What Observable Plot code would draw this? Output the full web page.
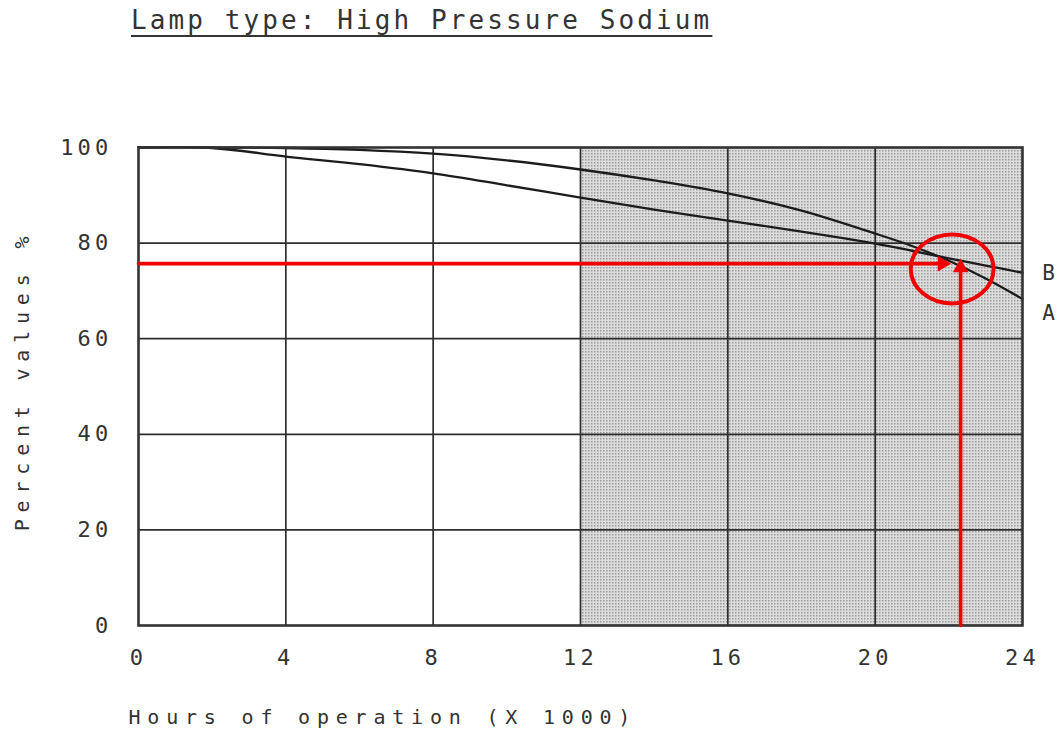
<!DOCTYPE html>
<html>
<head>
<meta charset="utf-8">
<script src="https://cdn.jsdelivr.net/npm/d3@7"></script>
<script src="https://cdn.jsdelivr.net/npm/@observablehq/plot@0.6"></script>
<style>
  body { margin: 0; background: #fff; width: 1063px; height: 731px; overflow: hidden; position: relative; font-family: "DejaVu Sans Mono", monospace; }
  #title { position: absolute; left: 131px; top: 5px; font-size: 26px; letter-spacing: 3.1px; color: #333; white-space: nowrap;
           text-decoration: underline; text-decoration-thickness: 2px; text-underline-offset: 6px; }
  #chart { position: absolute; left: 0; top: 60px; }
</style>
</head>
<body>
<div id="title">Lamp type: High Pressure Sodium</div>
<div id="chart"></div>
<script>
// ---- data ----
const hours  = [0, 2, 4, 6, 8, 10, 12, 14, 16, 18, 20, 21, 22, 23, 24];
const curveA = [100, 100, 99.9, 99.5, 98.7, 97.3, 95.4, 93.1, 90.4, 86.8, 82.0, 79.4, 76.3, 72.6, 68.3];
const curveB = [100, 99.9, 98.1, 96.5, 94.6, 92.1, 89.5, 87.0, 84.7, 82.4, 79.9, 78.4, 76.8, 75.3, 73.8];
const seriesNames = ["B", "A"];
const seriesLabelY = [73.6, 65.3];
const xTicks = [0, 4, 8, 12, 16, 20, 24];
const yTicks = [0, 20, 40, 60, 80, 100];
const xGrid = [4, 8, 12, 16, 20];
const yGrid = [20, 40, 60, 80];
const shadeFrom = 12, shadeTo = 24;
const xLabel = "Hours of operation (X 1000)";
const yLabel = "Percent values %";
// annotation (reading off the curve)
const readX = [0, 22.06];        // horizontal arrow: from x, to x
const readY = 75.7;              // horizontal arrow level
const upX = 22.32;               // vertical arrow position
const upY = [0, 76.7];           // vertical arrow: from y, to y
const ringX = 22.09, ringY = 74.6;

const red = "#f00000";

// ellipse symbol for the ring
const ellipse = {
  draw(ctx, size) {
    const r = Math.sqrt(size / Math.PI);
    const ry = r, rx = r * 1.2, k = 0.5523;
    ctx.moveTo(rx, 0);
    ctx.bezierCurveTo(rx, k * ry, k * rx, ry, 0, ry);
    ctx.bezierCurveTo(-k * rx, ry, -rx, k * ry, -rx, 0);
    ctx.bezierCurveTo(-rx, -k * ry, -k * rx, -ry, 0, -ry);
    ctx.bezierCurveTo(k * rx, -ry, rx, -k * ry, rx, 0);
    ctx.closePath();
  }
};

const one = [0];

const plot = Plot.plot({
  width: 1063,
  height: 671,
  marginTop: 87,
  marginBottom: 106,
  marginLeft: 138,
  marginRight: 41,
  x: { domain: [0, 24] },
  y: { domain: [0, 100] },
  style: { fontFamily: "DejaVu Sans Mono", color: "#333", background: "#fff", overflow: "visible" },
  marks: [
    Plot.rect(one, { x1: () => shadeFrom, x2: () => shadeTo, y1: () => 0, y2: () => 100, fill: "url(#dots)" }),
    Plot.gridX(xGrid, { stroke: "#2e2e2e", strokeOpacity: 1, strokeWidth: 1.7 }),
    Plot.gridY(yGrid, { stroke: "#2e2e2e", strokeOpacity: 1, strokeWidth: 1.7 }),
    Plot.line(hours, { x: (d, i) => hours[i], y: (d, i) => curveA[i], curve: "catmull-rom", stroke: "#1c1c1c", strokeWidth: 2.3 }),
    Plot.line(hours, { x: (d, i) => hours[i], y: (d, i) => curveB[i], curve: "catmull-rom", stroke: "#1c1c1c", strokeWidth: 2.3 }),
    Plot.frame({ stroke: "#333", strokeWidth: 2.6 }),
    Plot.axisX(xTicks, { tickSize: 0, tickPadding: 24, fontSize: 22, label: null }),
    Plot.axisY(yTicks, { tickSize: 0, tickPadding: 26, fontSize: 22, label: null }),
    Plot.text([xLabel], { text: d => d, frameAnchor: "bottom-left", dx: -10, dy: 98, fontSize: 20, textAnchor: "start", fill: "#333" }),
    Plot.text([yLabel], { text: d => d, frameAnchor: "left", dx: -116, dy: -6, rotate: -90, textAnchor: "middle", fontSize: 20, fill: "#333" }),
    Plot.text(seriesNames, { text: d => d, x: () => 24, y: (d, i) => seriesLabelY[i], dx: 26, fontSize: 21, fill: "#333" }),
    // annotation arrows
    Plot.arrow(one, { x1: () => readX[0], y1: () => readY, x2: () => readX[1], y2: () => readY, stroke: red, strokeWidth: 3.6, headLength: 0, insetEnd: 8 }),
    Plot.dot(one, { x: () => readX[1], y: () => readY, symbol: "triangle", r: 5.8, rotate: 90, fill: red, stroke: "none", dx: -8.8 }),
    Plot.arrow(one, { x1: () => upX, y1: () => upY[0], x2: () => upX, y2: () => upY[1], stroke: red, strokeWidth: 3.6, headLength: 0, insetEnd: 8 }),
    Plot.dot(one, { x: () => upX, y: () => upY[1], symbol: "triangle", r: 5.8, fill: red, stroke: "none", dy: 8.8 }),
    Plot.dot(one, { x: () => ringX, y: () => ringY, symbol: ellipse, r: 34.5, stroke: red, strokeWidth: 4, fill: "none" })
  ]
});

d3.select(plot).insert("defs", ":first-child").html(
  '<pattern id="dots" width="3" height="3" patternUnits="userSpaceOnUse">' +
  '<rect width="3" height="3" fill="#dcdcdc"/><rect width="1.5" height="1.5" fill="#9c9c9c"/></pattern>'
);
d3.select(plot).selectAll("g[font-size='22'] text").style("letter-spacing", "4.2px");
d3.select(plot).selectAll("g[font-size='20'] text").style("letter-spacing", "6.8px");

document.getElementById("chart").appendChild(plot);
</script>
</body>
</html>
